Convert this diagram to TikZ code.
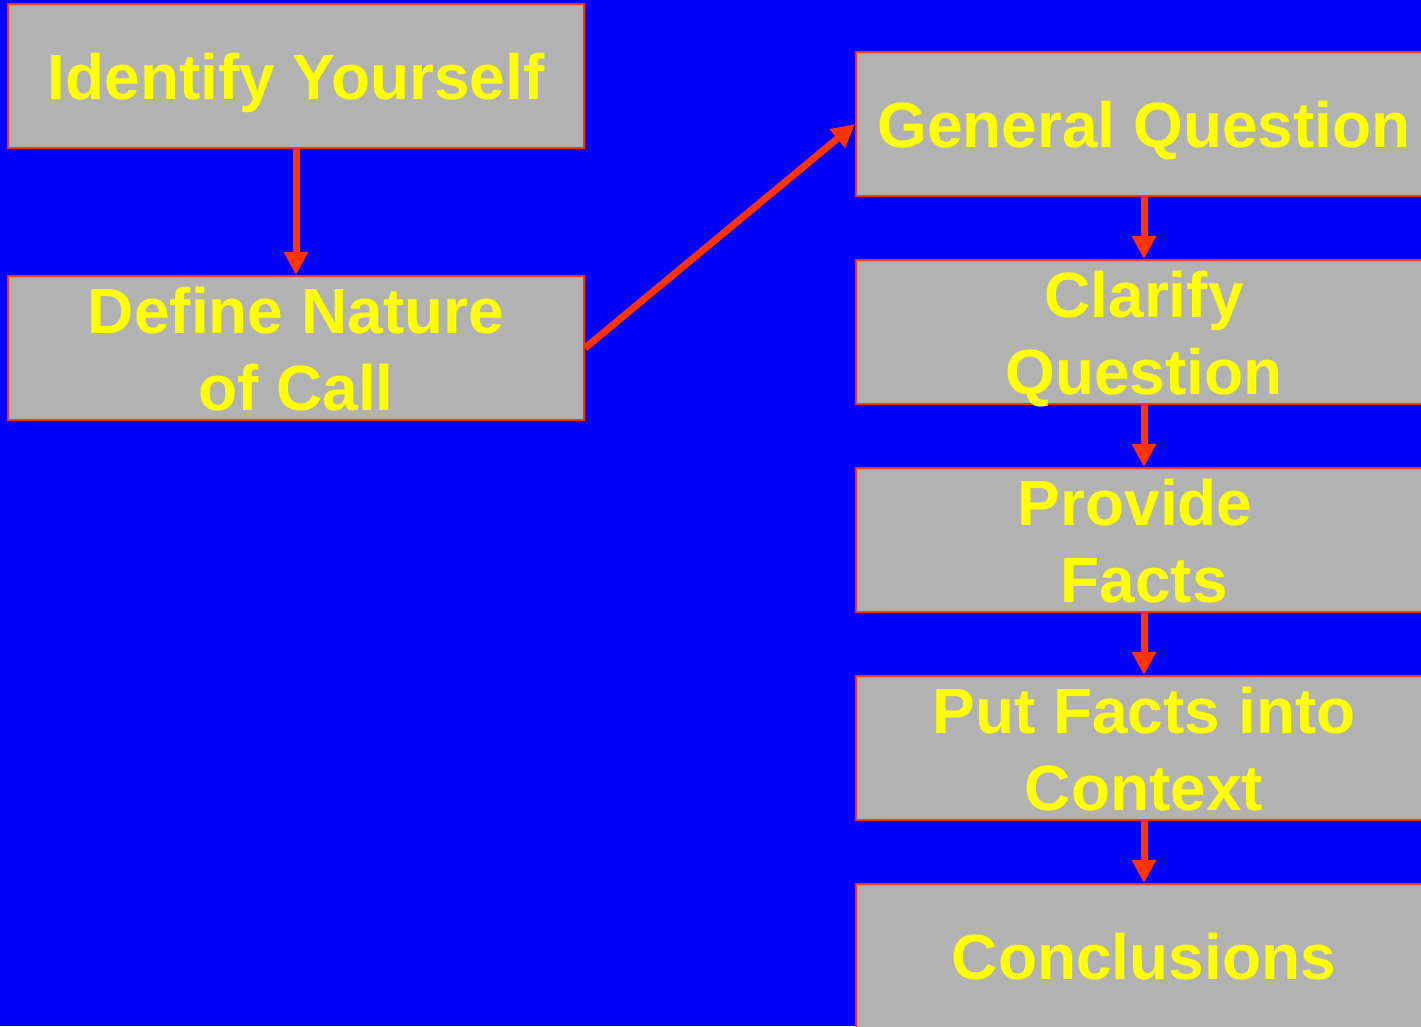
\documentclass[tikz,border=0pt]{standalone}
\usepackage{fontspec}
\setmainfont{Liberation Sans}
\usetikzlibrary{arrows.meta}
\definecolor{bgblue}{HTML}{0000FF}
\definecolor{boxgray}{HTML}{B2B2B2}
\definecolor{txtyellow}{HTML}{FFFF00}
\definecolor{linkred}{HTML}{FF3300}
\begin{document}
\begin{tikzpicture}[x=1pt,y=-1pt,
  box/.style={draw=linkred, line width=2pt, fill=boxgray, text=txtyellow,
    font=\fontsize{64}{77}\selectfont\bfseries, align=center,
    minimum width=576pt, minimum height=144pt, inner sep=0pt,
    text height=47.8pt, text depth=0pt},
  twoline/.style={text height=124.8pt},
  link/.style={draw=linkred, line width=7pt,
    -{Triangle[length=23pt,width=23pt]}}]
  \useasboundingbox (0,0) rectangle (1421,1026);
  \fill[bgblue] (0,0) rectangle (1421,1026);
  \clip (0,0) rectangle (1421,1026);

  % left column
  \node[box] (ident) at (296,76) {Identify Yourself};
  \node[box,twoline] (nature) at (296,348) {Define Nature\\of Call};

  % right column
  \node[box] (general) at (1144,124) {General Question};
  \node[box,twoline] (clarify) at (1144,332) {Clarify\\Question};
  \node[box,twoline] (facts) at (1144,540) {Provide\hphantom{\ }\\Facts};
  \node[box,twoline] (context) at (1144,748) {Put Facts into\\Context};
  \node[box] (concl) at (1144,956) {Conclusions};

  % connectors
  \draw[link] (ident.south) -- (nature.north);
  \draw[link] (nature.east) -- (general.west);
  \draw[link] (general.south) -- (clarify.north);
  \draw[link] (clarify.south) -- (facts.north);
  \draw[link] (facts.south) -- (context.north);
  \draw[link] (context.south) -- (concl.north);
\end{tikzpicture}
\end{document}
